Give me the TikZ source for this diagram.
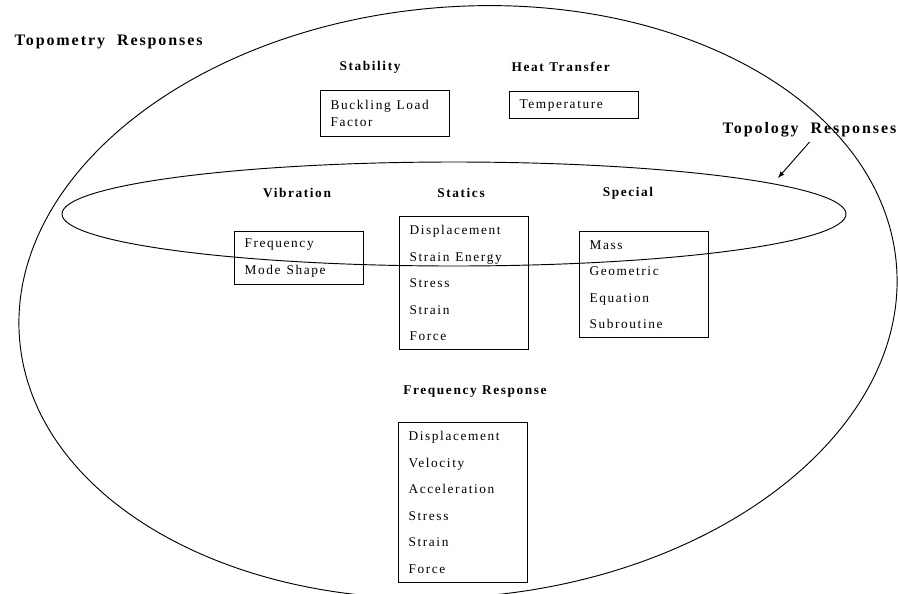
\documentclass[tikz,border=0pt]{standalone}
\usepackage{fontspec}
\setmainfont{Liberation Serif}[LetterSpace=12]
\usepackage{tikz}
\usetikzlibrary{positioning,shapes,arrows}

\newcommand{\respspace}[1]{\spaceskip=#1\relax}

\tikzset{
  respbox/.style={draw, line width=0.9pt, anchor=north west, align=left,
    text width=81.75pt, inner xsep=7.5pt, inner ysep=0pt,
    font=\fontsize{10}{19.9}\selectfont,
    execute at begin node={\respspace{4.5pt}}},
  grouplab/.style={font=\bfseries\fontsize{10}{12}\selectfont\respspace{4pt}},
  biglab/.style={font=\bfseries\fontsize{12}{14}\selectfont, anchor=west},
  respell/.style={draw, ellipse, line width=0.7pt, inner sep=0pt}
}

\begin{document}
\begin{tikzpicture}[x=0.75pt,y=-0.75pt]
      \useasboundingbox (0,0) rectangle (898,593);
      \clip (0,0) rectangle (898,593);
      % the two response regions
      \node[respell, rotate=5, minimum width=660pt, minimum height=442.5pt] (topomell) at (458,302) {};
      \node[respell, minimum width=588pt, minimum height=78pt] (topoell) at (454,214) {};
      \node[biglab] (topomlab) at (10,42) {Topometry\hspace{9pt}Responses};
      \node[biglab] (topolab) at (718,130) {Topology\hspace{9pt}Responses};
      \coordinate (topotip) at (778,178);
      \draw[-latex, line width=0.7pt] (topolab.south) -- (topotip);
      % groups
      \node[grouplab] (stablab) at (370,67) {Stability};
      \node[grouplab, anchor=west] (heatlab) at (507,67) {Heat Transfer};
      \node[grouplab] (viblab) at (297,193) {Vibration};
      \node[grouplab] (statlab) at (461,193) {Statics};
      \node[grouplab] (speclab) at (628,193) {Special};
      \node[grouplab] (freqlab) at (475,392) {Frequency Response};
      % responses
      \node[respbox, minimum height=34.5pt, font=\fontsize{10}{12.75}\selectfont] (buckbox) at (320,90) {Buckling Load\\Factor};
      \node[respbox, minimum height=20.25pt] (heatbox) at (509,91) {Temperature};
      \node[respbox, minimum height=39.75pt] (vibbox) at (234,231) {Frequency\\Mode Shape};
      \node[respbox, minimum height=99.75pt] (statbox) at (399,216) {Displacement\\Strain Energy\\Stress\\Strain\\Force};
      \node[respbox, minimum height=79.5pt] (specbox) at (579,231) {Mass\\Geometric\\Equation\\Subroutine};
      \node[respbox, minimum height=120pt] (freqbox) at (398,422) {Displacement\\Velocity\\Acceleration\\Stress\\Strain\\Force};
\end{tikzpicture}
\end{document}
